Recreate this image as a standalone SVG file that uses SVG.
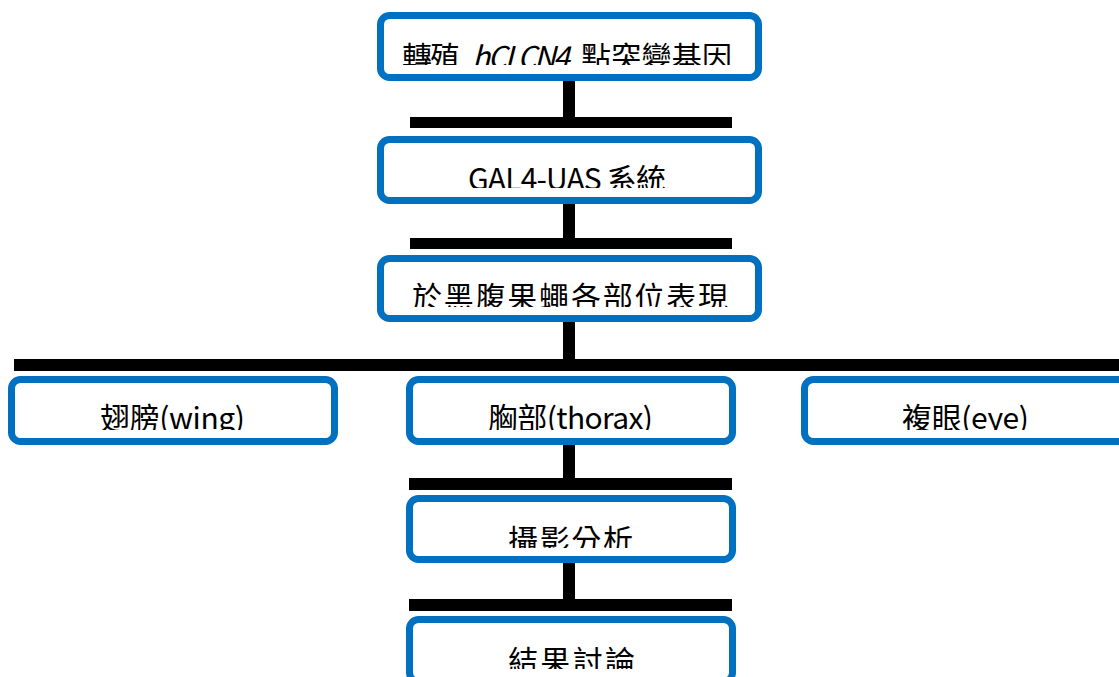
<svg xmlns="http://www.w3.org/2000/svg" width="1119" height="677" viewBox="0 0 1119 677">
<style>
.box{fill:#fff;stroke:#0070C0;stroke-width:7}
.t{font-family:"Noto Sans CJK TC","Noto Sans",sans-serif;font-size:30px;fill:#000;text-anchor:middle}
.s{text-anchor:start}
.ln{fill:#000}
</style>
<defs>
<clipPath id="c1"><rect x="380" y="15" width="379" height="50"/></clipPath>
<clipPath id="c2"><rect x="380" y="139" width="379" height="49"/></clipPath>
<clipPath id="c3"><rect x="380" y="258" width="379" height="49"/></clipPath>
<clipPath id="c4"><rect x="0" y="379" width="1119" height="51"/></clipPath>
<clipPath id="c5"><rect x="409" y="498" width="324" height="50"/></clipPath>
<clipPath id="c6"><rect x="409" y="619" width="324" height="50"/></clipPath>
</defs>
<g id="connectors">
<rect class="ln" x="563" y="78" width="12" height="40"/>
<rect class="ln" x="410" y="117" width="322" height="11"/>
<rect class="ln" x="563" y="200" width="12" height="39"/>
<rect class="ln" x="410" y="238" width="322" height="11"/>
<rect class="ln" x="563" y="318" width="12" height="42"/>
<rect class="ln" x="14" y="359" width="1105" height="12"/>
<rect class="ln" x="563" y="441" width="12" height="38"/>
<rect class="ln" x="409" y="478" width="323" height="12"/>
<rect class="ln" x="563" y="559" width="12" height="41"/>
<rect class="ln" x="409" y="599" width="323" height="12"/>
</g>
<g id="n1"><rect class="box" x="380.5" y="15.5" width="378" height="62" rx="9"/>
<g clip-path="url(#c1)">
<text class="t s" x="402" y="68" textLength="58">轉殖</text>
<text class="t s" x="472" y="68" textLength="98" font-style="italic">hCLCN4</text>
<text class="t s" x="581" y="68" textLength="151">點突變基因</text>
</g></g>
<g id="n2"><rect class="box" x="380.5" y="139.5" width="378" height="61" rx="9"/>
<text class="t" x="567" y="190" textLength="198" clip-path="url(#c2)">GAL4-UAS 系統</text></g>
<g id="n3"><rect class="box" x="380.5" y="258.5" width="378" height="60" rx="9"/>
<text class="t" x="570" y="308" textLength="316" clip-path="url(#c3)">於黑腹果蠅各部位表現</text></g>
<g id="n4"><rect class="box" x="11.5" y="379.5" width="323" height="62" rx="9"/>
<text class="t" x="172.5" y="429" textLength="145" clip-path="url(#c4)">翅膀(wing)</text></g>
<g id="n5"><rect class="box" x="409.5" y="379.5" width="323" height="62" rx="9"/>
<text class="t" x="570.5" y="429" textLength="165" clip-path="url(#c4)">胸部(thorax)</text></g>
<g id="n6"><rect class="box" x="804.5" y="379.5" width="323" height="62" rx="9"/>
<text class="t" x="965.5" y="429" textLength="127" clip-path="url(#c4)">複眼(eye)</text></g>
<g id="n7"><rect class="box" x="409.5" y="498.5" width="323" height="61" rx="9"/>
<text class="t" x="570.5" y="551" textLength="125" clip-path="url(#c5)">攝影分析</text></g>
<g id="n8"><rect class="box" x="409.5" y="619.5" width="323" height="62" rx="9"/>
<text class="t" x="571.5" y="672" textLength="127" clip-path="url(#c6)">結果討論</text></g>
</svg>
